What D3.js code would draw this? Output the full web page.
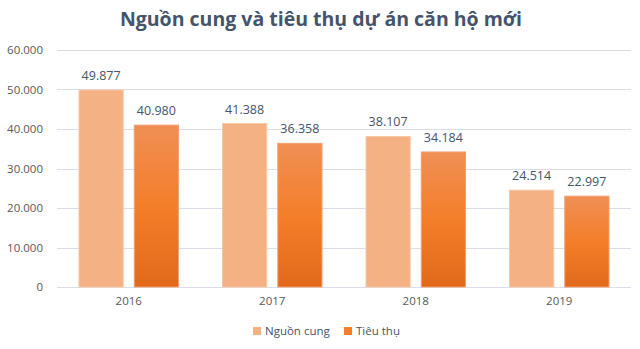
<!DOCTYPE html>
<html>
<head>
<meta charset="utf-8">
<script src="https://cdn.jsdelivr.net/npm/d3@7/dist/d3.min.js"></script>
<style>
  html, body { margin: 0; padding: 0; background: #fff; }
  svg { display: block; font-family: "Open Sans", "Noto Sans", sans-serif; }
</style>
</head>
<body>
<svg id="chart" width="640" height="349"></svg>
<script>
// Chart data
const years = ["2016", "2017", "2018", "2019"];
const seriesNames = ["Nguồn cung", "Tiêu thụ"];
const supply = [49877, 41388, 38107, 24514];
const sales = [40980, 36358, 34184, 22997];
const yTicks = [0, 10000, 20000, 30000, 40000, 50000, 60000];
const titleText = "Nguồn cung và tiêu thụ dự án căn hộ mới";

const svg = d3.select("#chart");
const margin = { top: 50, right: 9, bottom: 62, left: 57 };
const W = 640, H = 349;
const innerW = W - margin.left - margin.right;
const innerH = H - margin.top - margin.bottom;

const fmt = v => d3.format(",")(v).replace(/,/g, ".");

// Gradient for the second series
const defs = svg.append("defs");
const grad = defs.append("linearGradient")
  .attr("id", "salesGrad").attr("x1", 0).attr("y1", 0).attr("x2", 0).attr("y2", 1);
grad.append("stop").attr("offset", "0%").attr("stop-color", "#F08F55");
grad.append("stop").attr("offset", "50%").attr("stop-color", "#F47E2A");
grad.append("stop").attr("offset", "100%").attr("stop-color", "#E2691B");

const g = svg.append("g").attr("transform", `translate(${margin.left},${margin.top})`);

const x0 = d3.scaleBand().domain(years).range([0, innerW]);
const groupPad = 22;
const x1 = d3.scaleBand().domain(seriesNames)
  .range([groupPad, x0.bandwidth() - groupPad]).paddingInner(0.2);
const y = d3.scaleLinear().domain([0, 60000]).range([innerH, 0]);

// Title
svg.append("text")
  .attr("x", 321).attr("y", 26)
  .attr("text-anchor", "middle")
  .attr("font-size", 19.5).attr("font-weight", "bold")
  .attr("fill", "#44546A")
  .text(titleText);

// Gridlines
g.append("g").selectAll("line").data(yTicks).join("line")
  .attr("x1", 0).attr("x2", innerW)
  .attr("y1", d => Math.round(y(d)) + 0.5).attr("y2", d => Math.round(y(d)) + 0.5)
  .attr("stroke", "#D9DEE7").attr("stroke-width", 1);

// Y axis labels
const yAxis = g.append("g").call(d3.axisLeft(y).tickValues(yTicks).tickFormat(fmt).tickSize(0).tickPadding(14));
yAxis.select(".domain").remove();
yAxis.selectAll("text").attr("font-size", 11.5).attr("fill", "#595959").attr("font-family", "Open Sans, sans-serif");

// X axis labels
const xAxis = g.append("g").attr("transform", `translate(0,${innerH})`)
  .call(d3.axisBottom(x0).tickSize(0).tickPadding(10));
xAxis.select(".domain").remove();
xAxis.selectAll("text").attr("font-size", 11.5).attr("fill", "#595959").attr("font-family", "Open Sans, sans-serif");

const rows = years.map((yr, i) => ({ year: yr, vals: [supply[i], sales[i]] }));

const groups = g.append("g").selectAll("g").data(rows).join("g")
  .attr("transform", d => `translate(${x0(d.year)},0)`);

groups.selectAll("rect").data(d => d.vals.map((v, j) => ({ name: seriesNames[j], v, j }))).join("rect")
  .attr("x", d => x1(d.name))
  .attr("width", x1.bandwidth())
  .attr("y", d => y(d.v))
  .attr("height", d => innerH - y(d.v))
  .attr("fill", d => d.j === 0 ? "#F4B183" : "url(#salesGrad)")
  .attr("stroke", d => d.j === 0 ? "#F8C8A6" : "#F3A070")
  .attr("stroke-width", 1);

groups.selectAll("text.val").data(d => d.vals.map((v, j) => ({ name: seriesNames[j], v, j }))).join("text")
  .attr("class", "val")
  .attr("x", d => x1(d.name) + x1.bandwidth() / 2)
  .attr("y", d => y(d.v) - 10)
  .attr("text-anchor", "middle")
  .attr("font-size", 12.5)
  .attr("fill", "#44546A")
  .text(d => fmt(d.v));

// Legend
const legend = svg.append("g").attr("transform", "translate(253,327)");
const legendColors = ["#F4B183", "#F47E2A"];
const legendX = [0, 91];
seriesNames.forEach((name, i) => {
  const lg = legend.append("g").attr("transform", `translate(${legendX[i]},0)`);
  lg.append("rect").attr("width", 8).attr("height", 8).attr("fill", legendColors[i]);
  lg.append("text").attr("x", 12).attr("y", 8).attr("font-size", 11.5).attr("fill", "#44546A").text(name);
});
</script>
</body>
</html>
